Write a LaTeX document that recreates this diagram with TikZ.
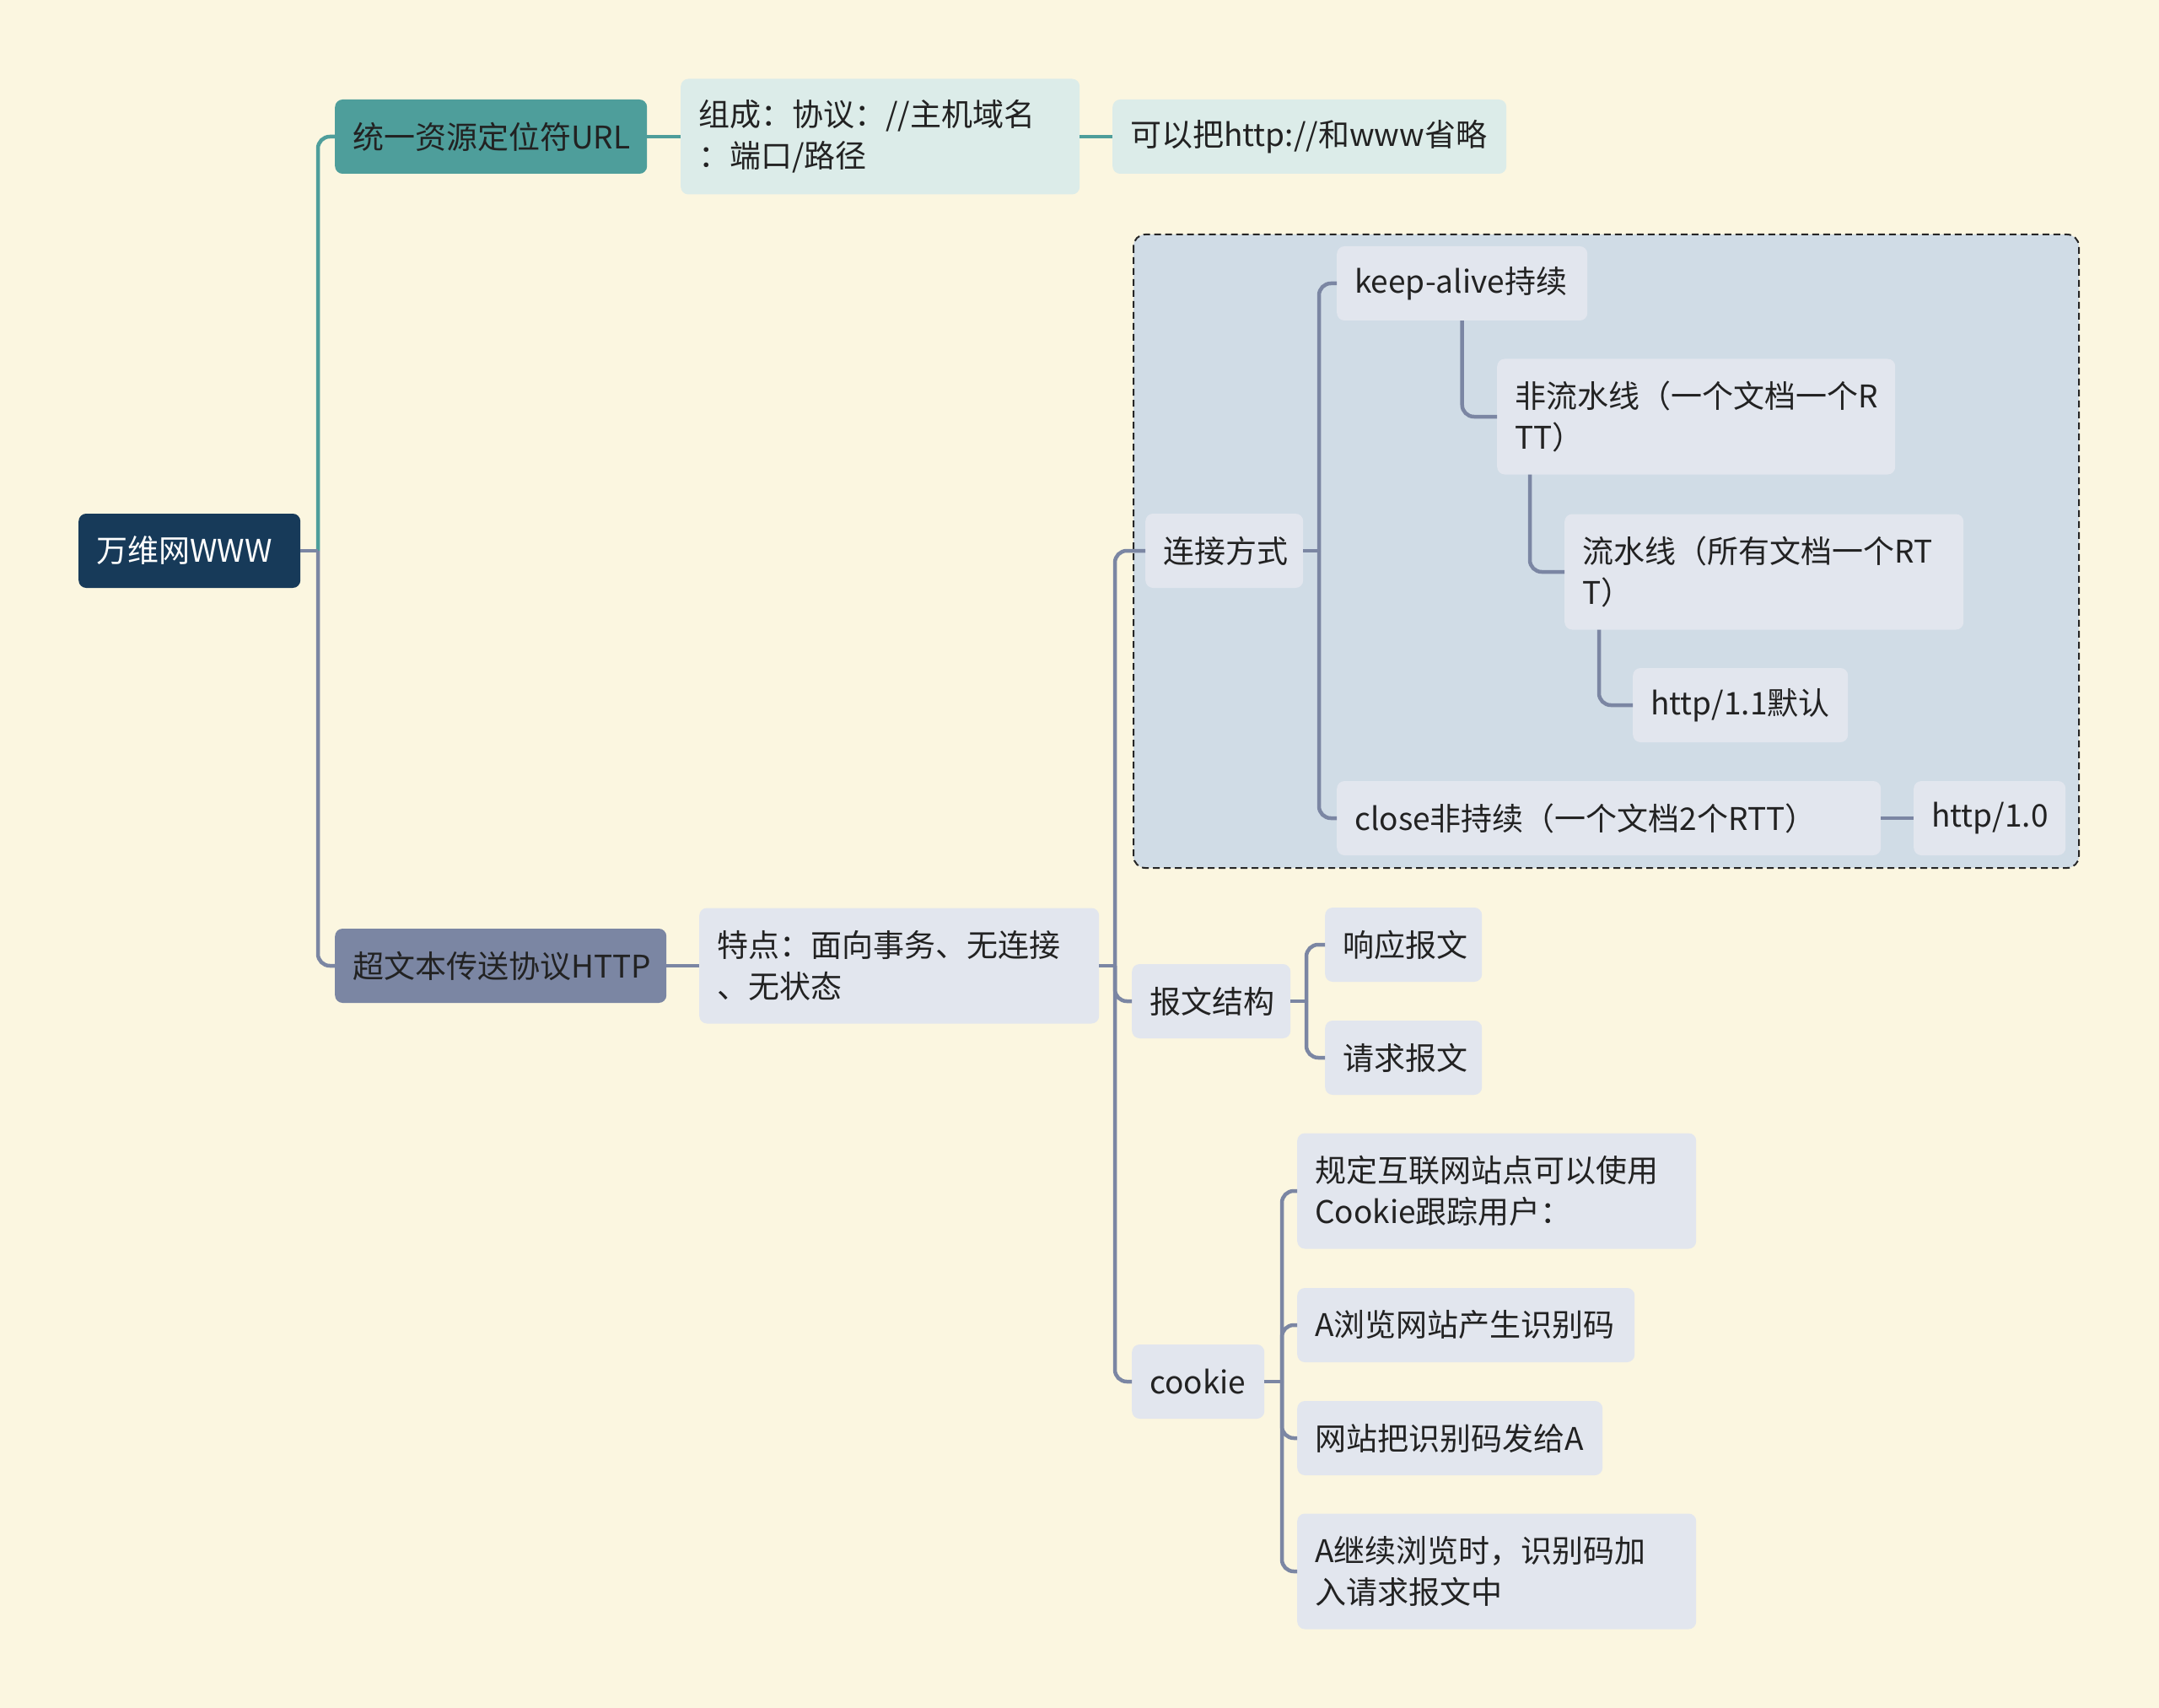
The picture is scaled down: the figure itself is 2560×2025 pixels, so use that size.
\documentclass[tikz,border=0pt]{standalone}
\usepackage{fontspec}
\setmainfont{Noto Sans CJK SC}
\definecolor{bg}{HTML}{FBF6E0}
\definecolor{navy}{HTML}{173A59}
\definecolor{tealc}{HTML}{4E9E9B}
\definecolor{tealL}{HTML}{DCECE9}
\definecolor{slate}{HTML}{7B86A3}
\definecolor{lightn}{HTML}{E2E6EE}
\definecolor{boxfill}{HTML}{D0DCE6}
\definecolor{txt}{HTML}{222222}
\tikzset{
  nbox/.style={rounded corners=9pt, inner xsep=21pt, inner ysep=0pt, minimum height=88pt,
    align=left, anchor=west, font=\fontsize{37pt}{49pt}\selectfont, text=txt},
  ln/.style={nbox, fill=lightn},
  tln/.style={nbox, fill=tealL},
  sl/.style={draw=slate, line width=4.5pt},
  tl/.style={draw=tealc, line width=4.5pt},
  rc/.style={rounded corners=14pt},
}
\begin{document}
\begin{tikzpicture}[x=1pt,y=-1pt]
\fill[bg] (0,0) rectangle (2560,2025);
\useasboundingbox (0,0) rectangle (2560,2025);
% dashed group box
\draw[fill=boxfill, draw=black!85, line width=2pt, dash pattern=on 8pt off 5pt, rounded corners=14pt] (1344,278) rectangle (2465,1029);
% nodes
\node[nbox, fill=navy, text=white, text width=221pt] (root) at (93,653) {万维网WWW};
\node[nbox, fill=tealc, text width=328pt] (url) at (397,162) {统一资源定位符URL};
\node[tln, text width=431pt, minimum height=137pt] (zc) at (807,162) {组成：协议：//主机域名\\：端口/路径};
\node[tln, text width=425pt] (kyb) at (1319,162) {可以把http://和www省略};
\node[nbox, fill=slate, text width=351pt] (http) at (397,1145) {超文本传送协议HTTP};
\node[ln, text width=432pt, minimum height=137pt] (td) at (829,1145) {特点：面向事务、无连接\\、无状态};
\node[ln, text width=145pt] (ljfs) at (1358,653) {连接方式};
\node[ln, text width=255pt] (keep) at (1585,336) {keep-alive持续};
\node[ln, text width=430pt, minimum height=137pt] (fei) at (1775,494) {非流水线（一个文档一个R\\TT）};
\node[ln, text width=431pt, minimum height=137pt] (liu) at (1855,678) {流水线（所有文档一个RT\\T）};
\node[ln, text width=213pt] (h11) at (1936,836) {http/1.1默认};
\node[ln, text width=603pt] (close) at (1585,970) {close非持续（一个文档2个RTT）};
\node[ln, text width=138pt] (h10) at (2269,970) {http/1.0};
\node[ln, text width=146pt] (bwjg) at (1342,1187) {报文结构};
\node[ln, text width=144pt] (xy) at (1571,1120) {响应报文};
\node[ln, text width=144pt] (qq) at (1571,1254) {请求报文};
\node[ln, text width=115pt] (cookie) at (1342,1638) {cookie};
\node[ln, text width=431pt, minimum height=137pt] (gd) at (1538,1412) {规定互联网站点可以使用\\Cookie跟踪用户：};
\node[ln, text width=358pt] (ail) at (1538,1571) {A浏览网站产生识别码};
\node[ln, text width=320pt] (wzb) at (1538,1705) {网站把识别码发给A};
\node[ln, text width=431pt, minimum height=137pt] (ajx) at (1538,1863) {A继续浏览时，识别码加\\入请求报文中};
% junctions
\coordinate (j0) at (377,653);
\coordinate (jt) at (1322,1145);
\coordinate (jl) at (1564,653);
\coordinate (jb) at (1549,1187);
\coordinate (jc) at (1520,1638);
% connectors
\draw[tl, rc] (j0) |- (url.west);
\draw[sl, rc] (j0) |- (http.west);
\draw[sl] (root.east) -- (j0);
\draw[tl] (url.east) -- (zc.west);
\draw[tl] (zc.east) -- (kyb.west);
\draw[sl] (http.east) -- (td.west);
\draw[sl] (td.east) -- (jt);
\draw[sl, rc] (jt) |- (ljfs.west);
\draw[sl, rc] (jt) |- (bwjg.west);
\draw[sl, rc] (jt) |- (cookie.west);
\draw[sl] (ljfs.east) -- (jl);
\draw[sl, rc] (jl) |- (keep.west);
\draw[sl, rc] (jl) |- (close.west);
\draw[sl, rc] (keep.south) |- (fei.west);
\draw[sl, rc] ([xshift=39pt]fei.south west) |- (liu.west);
\draw[sl, rc] ([xshift=41pt]liu.south west) |- (h11.west);
\draw[sl] (close.east) -- (h10.west);
\draw[sl] (bwjg.east) -- (jb);
\draw[sl, rc] (jb) |- (xy.west);
\draw[sl, rc] (jb) |- (qq.west);
\draw[sl] (cookie.east) -- (jc);
\draw[sl, rc] (jc) |- (gd.west);
\draw[sl, rc] (jc) |- (ail.west);
\draw[sl, rc] (jc) |- (wzb.west);
\draw[sl, rc] (jc) |- (ajx.west);
\end{tikzpicture}
\end{document}
